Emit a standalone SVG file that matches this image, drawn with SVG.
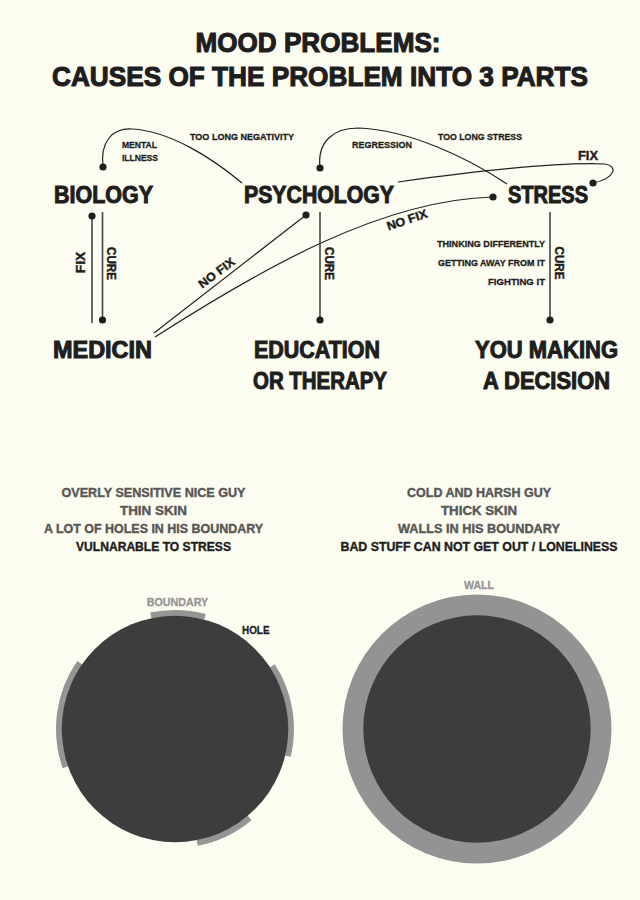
<svg xmlns="http://www.w3.org/2000/svg" width="640" height="900" viewBox="0 0 640 900">
<style>
text{font-family:"Liberation Sans",Arial,sans-serif;font-weight:bold;fill:#1e1e1e}
.title{font-size:28px;stroke:#1e1e1e;stroke-width:1.1}
.node{font-size:23px;stroke:#1e1e1e;stroke-width:1}
.sm{font-size:9.5px;stroke:#1e1e1e;stroke-width:0.3}
.lbl{font-size:12px;stroke:#1e1e1e;stroke-width:0.4}
.bt{font-size:13px;fill:#575757;stroke:#575757;stroke-width:0.4}
.btd{font-size:13px;fill:#1e1e1e;stroke:#1e1e1e;stroke-width:0.4}
.gl{font-size:11px;fill:#959595;stroke:#959595;stroke-width:0.3}
.hole{font-size:11px;fill:#1e1e1e;stroke:#1e1e1e;stroke-width:0.3}
.ln{fill:none;stroke:#222;stroke-width:1.2}
.vl{fill:none;stroke:#444;stroke-width:1.6}
.dot{fill:#1e1e1e}
.bd{fill:none;stroke:#959595;stroke-width:6}
</style>
<rect width="640" height="900" fill="#fdfcf0"/>
<g id="title">
<text class="title" x="318" y="52" text-anchor="middle" textLength="245" lengthAdjust="spacingAndGlyphs">MOOD PROBLEMS:</text>
<text class="title" x="320" y="86" text-anchor="middle" textLength="536" lengthAdjust="spacingAndGlyphs">CAUSES OF THE PROBLEM INTO 3 PARTS</text>
</g>
<g id="connectors">
<path class="ln" d="M103,167 C100,142 112,128 132,129 C170,131 212,158 242,183"/>
<path class="ln" d="M320,168 C317,142 333,128 358,128 C410,130 468,158 507,184"/>
<path class="ln" d="M398,182 C470,172 560,162 605,164 C618,166 616,178 593,183"/>
<path class="ln" d="M155,337 C260,270 380,200 493,197"/>
<path class="ln" d="M154,333 L306,215"/>
<line class="vl" x1="92" y1="216" x2="92" y2="323"/>
<line class="vl" x1="102.5" y1="212" x2="102.5" y2="320"/>
<line class="vl" x1="320" y1="212" x2="320" y2="320"/>
<line class="vl" x1="550" y1="212" x2="550" y2="320"/>
<circle class="dot" cx="103" cy="167" r="3.6"/>
<circle class="dot" cx="320" cy="168" r="3.6"/>
<circle class="dot" cx="593" cy="183" r="3.6"/>
<circle class="dot" cx="493" cy="197" r="3.6"/>
<circle class="dot" cx="306" cy="215" r="3.6"/>
<circle class="dot" cx="92" cy="216" r="3.6"/>
<circle class="dot" cx="102.5" cy="320" r="3.6"/>
<circle class="dot" cx="320" cy="320" r="3.6"/>
<circle class="dot" cx="550" cy="320" r="3.6"/>
<text class="sm" x="122" y="148" textLength="35" lengthAdjust="spacingAndGlyphs">MENTAL</text>
<text class="sm" x="122" y="161" textLength="36" lengthAdjust="spacingAndGlyphs">ILLNESS</text>
<text class="sm" x="190" y="140" textLength="104" lengthAdjust="spacingAndGlyphs">TOO LONG NEGATIVITY</text>
<text class="sm" x="352" y="148" textLength="60" lengthAdjust="spacingAndGlyphs">REGRESSION</text>
<text class="sm" x="438" y="140" textLength="84" lengthAdjust="spacingAndGlyphs">TOO LONG STRESS</text>
<text class="lbl" x="578" y="160" textLength="20" lengthAdjust="spacingAndGlyphs">FIX</text>
<text class="lbl" transform="translate(407,220) rotate(-19)" text-anchor="middle" y="4" textLength="42" lengthAdjust="spacingAndGlyphs">NO FIX</text>
<text class="lbl" transform="translate(216.5,273) rotate(-37)" text-anchor="middle" y="4" textLength="42" lengthAdjust="spacingAndGlyphs">NO FIX</text>
<text class="lbl" transform="translate(80,262.5) rotate(-90)" text-anchor="middle" y="4.5" textLength="21.5" lengthAdjust="spacingAndGlyphs">FIX</text>
<text class="lbl" transform="translate(111.5,263.5) rotate(90)" text-anchor="middle" y="4.5" textLength="33" lengthAdjust="spacingAndGlyphs">CURE</text>
<text class="lbl" transform="translate(329,263.5) rotate(90)" text-anchor="middle" y="4.5" textLength="33" lengthAdjust="spacingAndGlyphs">CURE</text>
<text class="lbl" transform="translate(559,263) rotate(90)" text-anchor="middle" y="4.5" textLength="33" lengthAdjust="spacingAndGlyphs">CURE</text>
<text class="sm" x="545" y="247" text-anchor="end" textLength="108" lengthAdjust="spacingAndGlyphs">THINKING DIFFERENTLY</text>
<text class="sm" x="545" y="266" text-anchor="end" textLength="107" lengthAdjust="spacingAndGlyphs">GETTING AWAY FROM IT</text>
<text class="sm" x="545" y="284.5" text-anchor="end" textLength="57" lengthAdjust="spacingAndGlyphs">FIGHTING IT</text>
</g>
<g id="biology"><text class="node" x="54" y="203" textLength="99" lengthAdjust="spacingAndGlyphs">BIOLOGY</text></g>
<g id="psychology"><text class="node" x="244" y="203" textLength="150" lengthAdjust="spacingAndGlyphs">PSYCHOLOGY</text></g>
<g id="stress"><text class="node" x="508" y="203" textLength="80" lengthAdjust="spacingAndGlyphs">STRESS</text></g>
<g id="medicin"><text class="node" x="53" y="358" textLength="99" lengthAdjust="spacingAndGlyphs">MEDICIN</text></g>
<g id="education">
<text class="node" x="254" y="358" textLength="126" lengthAdjust="spacingAndGlyphs">EDUCATION</text>
<text class="node" x="253" y="389" textLength="134" lengthAdjust="spacingAndGlyphs">OR THERAPY</text>
</g>
<g id="decision">
<text class="node" x="475" y="358" textLength="143" lengthAdjust="spacingAndGlyphs">YOU MAKING</text>
<text class="node" x="483" y="389" textLength="127" lengthAdjust="spacingAndGlyphs">A DECISION</text>
</g>
<g id="nice-guy">
<text class="bt" x="153.5" y="497" text-anchor="middle" textLength="184" lengthAdjust="spacingAndGlyphs">OVERLY SENSITIVE NICE GUY</text>
<text class="bt" x="153.5" y="515" text-anchor="middle" textLength="67" lengthAdjust="spacingAndGlyphs">THIN SKIN</text>
<text class="bt" x="153.5" y="533" text-anchor="middle" textLength="219" lengthAdjust="spacingAndGlyphs">A LOT OF HOLES IN HIS BOUNDARY</text>
<text class="btd" x="153.5" y="551" text-anchor="middle" textLength="155" lengthAdjust="spacingAndGlyphs">VULNARABLE TO STRESS</text>
<path class="bd" d="M65.45,767.15 A116,116 0 0 1 79.75,662.8"/>
<path class="bd" d="M272.29,665.83 A116,116 0 0 1 287.8,756.08"/>
<path class="bd" d="M249.56,817.86 A116,116 0 0 1 197.13,842.87"/>
<path class="bd" d="M150.88,615.54 A116,116 0 0 1 205.02,616.95"/>
<circle cx="175" cy="729" r="113.3" fill="#3d3d3d"/>
<text class="gl" x="177.5" y="606" text-anchor="middle" textLength="61.5" lengthAdjust="spacingAndGlyphs">BOUNDARY</text>
<text class="hole" x="242" y="634" textLength="27.5" lengthAdjust="spacingAndGlyphs">HOLE</text>
</g>
<g id="harsh-guy">
<text class="bt" x="479" y="497" text-anchor="middle" textLength="144" lengthAdjust="spacingAndGlyphs">COLD AND HARSH GUY</text>
<text class="bt" x="479" y="515" text-anchor="middle" textLength="76" lengthAdjust="spacingAndGlyphs">THICK SKIN</text>
<text class="bt" x="479" y="533" text-anchor="middle" textLength="162" lengthAdjust="spacingAndGlyphs">WALLS IN HIS BOUNDARY</text>
<text class="btd" x="479" y="551" text-anchor="middle" textLength="277" lengthAdjust="spacingAndGlyphs">BAD STUFF CAN NOT GET OUT / LONELINESS</text>
<circle cx="477" cy="729" r="134.5" fill="#939393"/>
<circle cx="477" cy="729" r="113.7" fill="#3d3d3d"/>
<text class="gl" x="479" y="589" text-anchor="middle" textLength="30" lengthAdjust="spacingAndGlyphs">WALL</text>
</g>
</svg>
